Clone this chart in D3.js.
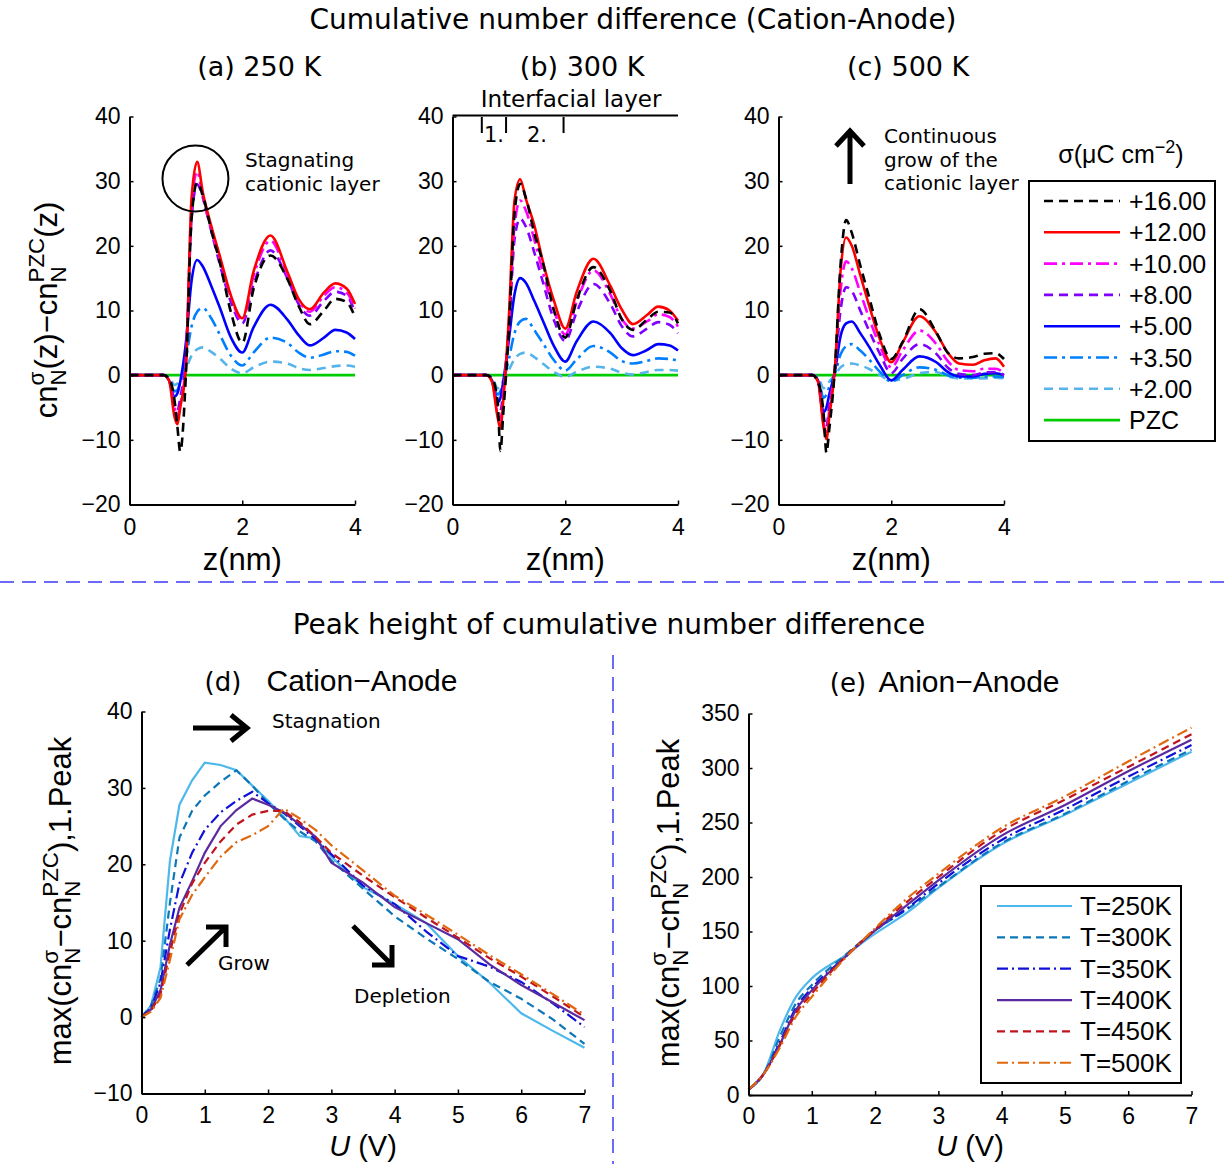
<!DOCTYPE html>
<html>
<head>
<meta charset="utf-8">
<script src="https://cdnjs.cloudflare.com/ajax/libs/d3/7.8.5/d3.min.js"></script>
<style>
body { margin: 0; background: #fff; }
text { font-family: "Liberation Sans", Arial, sans-serif; fill: #000; }
text.dv { font-family: "DejaVu Sans", sans-serif; }
</style>
</head>
<body>
<div id="chart-area"></div>
<script>
// ---- data: cumulative number difference vs z (nm) ----
const zNm = [0, 0.6, 0.7, 0.8, 0.85, 0.9, 1.0, 1.1, 1.2, 1.3, 1.45, 1.6, 1.8, 2.0, 2.2, 2.5, 2.8, 3.0, 3.2, 3.45, 3.65, 3.85, 4.0];
const sigmaLabels = ['+16.00', '+12.00', '+10.00', '+8.00', '+5.00', '+3.50', '+2.00', 'PZC'];

// 250 K, order: +16, +12, +10, +8, +5, +3.5, +2, PZC
const cn250K = [
    [0, 0, -0.5, -4, -8, -11.8, 0, 24, 29.8, 27.8, 22.4, 17.5, 9.7, 5.0, 13.3, 18.5, 14.9, 10.7, 7.9, 10, 11.8, 11.3, 9],
    [0, 0, -0.8, -6.5, -7.6, -5, 1, 27.3, 33, 28.3, 23.1, 18.5, 12.3, 8.8, 16, 21.6, 16, 11.8, 10.2, 12.8, 14.2, 13.4, 11],
    [0, 0, -0.7, -5, -6.5, -4.5, 2, 26, 31.5, 27.5, 22.5, 18, 12, 8.5, 15.3, 20.8, 15.5, 11.5, 9.8, 12.3, 13.6, 12.8, 10.3],
    [0, 0, -0.6, -4.5, -5.5, -3.5, 3, 24, 29.5, 27.5, 22.3, 17.2, 11.3, 8, 14, 19.3, 15, 11, 9.2, 11.5, 12.9, 12.3, 9.7],
    [0, 0, -0.8, -3.3, -2.8, -1, 5, 14.5, 17.8, 16.8, 13.8, 10.5, 5.8, 3.5, 7.4, 10.9, 8.6, 6.2, 4.6, 5.8, 7.0, 6.6, 5.6],
    [0, 0, -0.5, -2.5, -2.3, -1, 2.5, 7.5, 9.8, 10.4, 8.8, 6.3, 3, 1.5, 3.5, 5.8, 5, 3.5, 2.7, 3.2, 3.7, 3.6, 3.0],
    [0, 0, -0.3, -1.5, -1.3, -0.6, 1, 3, 4, 4.3, 3.6, 2.6, 1, 0.3, 1.2, 2.1, 1.8, 1.1, 0.8, 1.1, 1.4, 1.5, 1.3],
    [0, 0, 0, 0, 0, 0, 0, 0, 0, 0, 0, 0, 0, 0, 0, 0, 0, 0, 0, 0, 0, 0, 0]
];

// 300 K
const cn300K = [
    [0, 0, -0.5, -4, -11.7, -6, 7, 25, 29.6, 27.5, 22, 17.5, 10, 5.8, 11.5, 16.7, 13, 8.7, 7.0, 8.6, 9.8, 9.7, 8.0],
    [0, 0, -1, -6.5, -8.3, -4, 9, 27, 30.3, 27.3, 23.2, 17.7, 11.5, 7.2, 12.8, 18, 13.8, 10.2, 7.9, 9.3, 10.6, 10, 8.4],
    [0, 0, -0.8, -6, -7, -3, 8, 23, 27, 25.5, 21, 16, 10, 6.3, 11.3, 16.2, 12.5, 8.7, 7.2, 8.3, 9.4, 9.0, 7.5],
    [0, 0, -0.6, -5, -5.5, -2.5, 6.5, 21, 24.2, 23, 19, 14.5, 8.5, 5.3, 9.7, 14.1, 11, 7.6, 6.0, 7.2, 8.2, 7.8, 6.5],
    [0, 0, -0.8, -4.2, -3.5, -1, 5.5, 12.5, 15, 14.3, 11.5, 8.5, 4.5, 2.1, 5.2, 8.3, 6.5, 4.2, 3.1, 3.9, 4.8, 4.6, 3.8],
    [0, 0, -0.6, -3, -2.5, -1, 2.5, 6.5, 8.3, 8.7, 7, 5, 2.3, 0.7, 2.4, 4.5, 3.5, 2.2, 1.8, 2.2, 2.6, 2.5, 2.2],
    [0, 0, -0.3, -2, -1.8, -0.8, 0.8, 2.5, 3.3, 3.5, 2.8, 1.8, 0.5, -0.3, 0.5, 1.3, 1.0, 0.4, 0.1, 0.5, 0.8, 0.8, 0.7],
    [0, 0, 0, 0, 0, 0, 0, 0, 0, 0, 0, 0, 0, 0, 0, 0, 0, 0, 0, 0, 0, 0, 0]
];

// 500 K
const cn500K = [
    [0, 0, -1, -6, -12, -8.4, 1, 17, 24, 22, 17, 12.3, 6.1, 2.5, 5.1, 10.2, 6.6, 3.5, 2.6, 2.8, 3.3, 3.4, 2.5],
    [0, 0, -1, -8, -9.9, -6.5, 1, 16, 21.3, 20, 15.5, 11, 5.5, 2.0, 5, 9.1, 6.5, 3.5, 1.8, 1.6, 2.3, 2.6, 1.3],
    [0, 0, -1, -7.5, -9, -5.5, 1, 13, 17.6, 16.5, 12.8, 9, 4.5, 1.2, 3.8, 6.9, 4.8, 2.2, 0.8, 0.6, 1.0, 1.0, 0.4],
    [0, 0, -0.8, -6.5, -8, -4.5, 1, 10, 13.6, 13, 10, 7, 3.3, 0.3, 2.5, 4.8, 3.3, 1.2, 0.2, 0, 0.4, 0.5, 0],
    [0, 0, -0.8, -5.7, -5, -3, 0.5, 6, 8, 8.3, 6.5, 4.5, 1.5, -0.8, 0.8, 2.9, 2, 0.5, -0.2, -0.2, 0.2, 0.3, 0],
    [0, 0, -0.5, -3.5, -3, -1.8, 0.2, 3.2, 4.5, 4.8, 3.8, 2.5, 0.5, -1.0, 0, 1.2, 0.8, 0, -0.4, -0.4, -0.2, -0.2, -0.3],
    [0, 0, -0.3, -2, -1.8, -1, 0, 1.2, 1.7, 1.8, 1.5, 1, 0, -0.8, -0.6, 0.3, 0.5, -0.2, -0.5, -0.5, -0.5, -0.4, -0.5],
    [0, 0, 0, 0, 0, 0, 0, 0, 0, 0, 0, 0, 0, 0, 0, 0, 0, 0, 0, 0, 0, 0, 0]
];

// ---- data: peak heights vs U (V) ----
const tempLabels = ['T=250K', 'T=300K', 'T=350K', 'T=400K', 'T=450K', 'T=500K'];

const uCation = [0, 0.15, 0.3, 0.45, 0.6, 0.8, 1.0, 1.25, 1.5, 1.75, 2.0, 2.25, 2.5, 2.75, 3.0, 3.5, 4.0, 4.5, 5.0, 5.5, 6.0, 6.5, 7.0];
const peakCation = [
    [0, 1.5, 6.5, 20.5, 27.8, 31, 33.3, 33, 32.3, 30.3, 28.3, 26.2, 23.7, 23.4, 21, 17, 14.8, 12.3, 8, 4.5, 0.5, -1.8, -4],
    [0, 1.5, 5, 15, 23.5, 27, 29, 30.8, 32.3, 30.3, 28, 26, 24.3, 23, 20.5, 16.8, 13.2, 10.3, 7.6, 4.6, 2.4, -0.3, -3.5],
    [0, 1.2, 4.5, 11.5, 17.5, 21.5, 24.5, 26.8, 28.3, 29.5, 28, 26.7, 25, 23.3, 21.3, 17.2, 14.8, 11.2, 8, 6.6, 4.6, 1.8, -1.3],
    [0, 1, 3.5, 9.5, 14.3, 17.8, 21.5, 25, 27.1, 28.6, 27.8, 26.8, 25.2, 23.6, 20.2, 17.6, 14.4, 12.3, 10.2, 6.9, 4.2, 1.9, -0.4],
    [0, 0.8, 3, 8.5, 13.5, 17.5, 20.2, 23, 25.2, 26.5, 27, 27, 25.5, 23.6, 21.5, 18.5, 15.7, 13, 10.4, 7.7, 5.3, 2.7, 0],
    [0, 0.7, 2.5, 7.5, 12.8, 16, 18.3, 21, 22.9, 23.8, 25, 27.3, 26, 24.5, 22.5, 19.2, 15.9, 13.4, 10.8, 8.1, 5.6, 3, 0.3]
];

const uAnion = [0, 0.25, 0.5, 0.75, 1, 1.5, 2, 2.5, 3, 4, 5, 6, 7];
const peakAnion = [
    [5, 21, 60, 90, 107, 127, 148, 167, 190, 230, 257, 286, 315],
    [5, 20, 54, 84, 101, 127, 151, 170, 191, 231, 258, 288, 317],
    [5, 20, 49, 80, 98, 125, 151, 171, 194, 234, 262, 292, 321],
    [5, 20, 47, 78, 96, 125, 151, 174, 197, 238, 266, 297, 326],
    [5, 20, 46, 75, 93, 125, 152, 177, 200, 242, 271, 301, 331],
    [5, 20, 44, 72, 90, 124, 153, 180, 203, 245, 274, 306, 337]
];

const zTicks = [0, 2, 4];
const cnTicks = [-20, -10, 0, 10, 20, 30, 40];
const uTicks = [0, 1, 2, 3, 4, 5, 6, 7];
const cationTicks = [-10, 0, 10, 20, 30, 40];
const anionTicks = [0, 50, 100, 150, 200, 250, 300, 350];

// styles
const sigmaColors = ['#000000', '#ff0000', '#ff00ff', '#8000ff', '#0000ff', '#0080ff', '#55b4ea', '#00cc00'];
const sigmaDash = ['9,6', null, '13,5,3,5', '9,6', null, '13,5,3,5', '9,6', null];
const tempColors = ['#4db8ec', '#0d76b8', '#1010d8', '#5a2aa0', '#c0141e', '#e0680f'];
const tempDash = [null, '8,5', '11,4,2,4', null, '8,5', '11,4,2,4'];

const svg = d3.select('#chart-area')
    .append('svg')
    .attr('width', 1225)
    .attr('height', 1164);

// text with stacked sub/superscripts
function mathText(parent, x, y, parts, size, rotate) {
    const g = parent.append('g')
        .attr('transform', 'translate(' + x + ',' + y + ') rotate(' + (rotate || 0) + ')');
    const inner = g.append('g');
    let cx = 0;
    parts.forEach((p) => {
        if (typeof p === 'string' || p.t) {
            const t = inner.append('text')
                .attr('x', cx)
                .attr('font-size', size)
                .attr('font-style', p.italic ? 'italic' : null)
                .text(typeof p === 'string' ? p : p.t);
            cx += t.node().getComputedTextLength();
        } else {
            const s = size * 0.72;
            let w = 0;
            if (p.sup) {
                const t = inner.append('text').attr('x', cx).attr('y', -size * 0.42)
                    .attr('font-size', s).text(p.sup);
                w = Math.max(w, t.node().getComputedTextLength());
            }
            if (p.sub) {
                const t = inner.append('text').attr('x', cx).attr('y', size * 0.3)
                    .attr('font-size', s).text(p.sub);
                w = Math.max(w, t.node().getComputedTextLength());
            }
            cx += w;
        }
    });
    inner.attr('transform', 'translate(' + (-cx / 2) + ',0)');
    return g;
}

const tickFmt = (d) => d < 0 ? '\u2212' + Math.abs(d) : String(d);

function styleAxis(axisG) {
    axisG.select('.domain').attr('stroke', '#000').attr('stroke-width', 2);
    axisG.selectAll('.tick line').attr('stroke', '#000').attr('stroke-width', 1.5);
    axisG.selectAll('.tick text')
        .attr('font-family', '"Liberation Sans", Arial, sans-serif')
        .attr('font-size', 23)
        .attr('fill', '#000');
}

// ---- top row ----
function topPanel(x0, series, title) {
    const xScale = d3.scaleLinear().domain([0, 4]).range([x0, x0 + 225.5]);
    const yScale = d3.scaleLinear().domain([-20, 40]).range([504.5, 116.5]);

    const line = d3.line()
        .x((d, i) => xScale(zNm[i]))
        .y((d) => yScale(d))
        .curve(d3.curveMonotoneX);

    const order = [7, 6, 5, 4, 3, 2, 1, 0];
    order.forEach((k) => {
        svg.append('path')
            .datum(series[k])
            .attr('d', line)
            .attr('fill', 'none')
            .attr('stroke', sigmaColors[k])
            .attr('stroke-width', 2.6)
            .attr('stroke-dasharray', sigmaDash[k]);
    });

    const xAxisGroup = svg.append('g')
        .attr('transform', 'translate(0,' + yScale(-20) + ')')
        .call(d3.axisBottom(xScale).tickValues(zTicks).tickFormat(tickFmt)
            .tickSizeInner(-4).tickSizeOuter(0).tickPadding(14));
    styleAxis(xAxisGroup);

    const yAxisGroup = svg.append('g')
        .attr('transform', 'translate(' + xScale(0) + ',0)')
        .call(d3.axisLeft(yScale).tickValues(cnTicks).tickFormat(tickFmt)
            .tickSizeInner(-4).tickSizeOuter(0).tickPadding(9));
    styleAxis(yAxisGroup);

    svg.append('text')
        .attr('class', 'dv')
        .attr('x', xScale(2.3))
        .attr('y', 76)
        .attr('text-anchor', 'middle')
        .attr('font-size', 27)
        .text(title);

    svg.append('text')
        .attr('x', xScale(2))
        .attr('y', 570)
        .attr('text-anchor', 'middle')
        .attr('font-size', 31)
        .text('z(nm)');

    return {xScale, yScale};
}

const pa = topPanel(129.5, cn250K, '(a) 250 K');
const pb = topPanel(452.5, cn300K, '(b) 300 K');
const pc = topPanel(778.5, cn500K, '(c) 500 K');

svg.append('text')
    .attr('class', 'dv')
    .attr('x', 633)
    .attr('y', 29)
    .attr('text-anchor', 'middle')
    .attr('font-size', 28)
    .text('Cumulative number difference (Cation-Anode)');

mathText(svg, 57, 310, ['cn', {sup: '\u03c3', sub: 'N'}, '(z)\u2212cn', {sup: 'PZC', sub: 'N'}, '(z)'], 31, -90);

// (a) annotation
svg.append('circle')
    .attr('cx', pa.xScale(1.17))
    .attr('cy', pa.yScale(30.4))
    .attr('r', 33)
    .attr('fill', 'none')
    .attr('stroke', '#000')
    .attr('stroke-width', 2);
svg.append('text').attr('class', 'dv').attr('x', 245).attr('y', 167).attr('font-size', 20).text('Stagnating');
svg.append('text').attr('class', 'dv').attr('x', 245).attr('y', 191).attr('font-size', 20).text('cationic layer');

// (b) interfacial layer bracket
svg.append('line')
    .attr('x1', pb.xScale(0)).attr('x2', pb.xScale(4))
    .attr('y1', 115.5).attr('y2', 115.5)
    .attr('stroke', '#000').attr('stroke-width', 2);
[0.52, 0.95, 1.97].forEach((z) => {
    svg.append('line')
        .attr('x1', pb.xScale(z)).attr('x2', pb.xScale(z))
        .attr('y1', 117).attr('y2', 133)
        .attr('stroke', '#000').attr('stroke-width', 2);
});
svg.append('text').attr('class', 'dv').attr('x', 571).attr('y', 107).attr('text-anchor', 'middle').attr('font-size', 23).text('Interfacial layer');
svg.append('text').attr('class', 'dv').attr('x', 484).attr('y', 142).attr('font-size', 21).text('1.');
svg.append('text').attr('class', 'dv').attr('x', 527).attr('y', 142).attr('font-size', 21).text('2.');

// (c) arrow + text
svg.append('path')
    .attr('d', 'M850,184 L850,132 M836,146 L850,131 L864,146')
    .attr('fill', 'none').attr('stroke', '#000').attr('stroke-width', 5);
svg.append('text').attr('class', 'dv').attr('x', 884).attr('y', 143).attr('font-size', 20).text('Continuous');
svg.append('text').attr('class', 'dv').attr('x', 884).attr('y', 167).attr('font-size', 20).text('grow of the');
svg.append('text').attr('class', 'dv').attr('x', 884).attr('y', 190).attr('font-size', 20).text('cationic layer');

// sigma legend
mathText(svg, 1121, 163, ['\u03c3(\u03bcC cm', {sup: '\u22122'}, ')'], 25, 0);
svg.append('rect')
    .attr('x', 1029).attr('y', 181)
    .attr('width', 186).attr('height', 260)
    .attr('fill', '#fff').attr('stroke', '#000').attr('stroke-width', 2);
sigmaLabels.forEach((lab, i) => {
    const y = 201 + i * 31.3;
    svg.append('line')
        .attr('x1', 1044).attr('x2', 1120)
        .attr('y1', y).attr('y2', y)
        .attr('stroke', sigmaColors[i]).attr('stroke-width', 2.6)
        .attr('stroke-dasharray', sigmaDash[i]);
    svg.append('text')
        .attr('x', 1129).attr('y', y + 9)
        .attr('font-size', 25)
        .text(lab);
});

// separators
svg.append('line')
    .attr('x1', 0).attr('x2', 1225).attr('y1', 582).attr('y2', 582)
    .attr('stroke', '#3a3af5').attr('stroke-width', 1.5).attr('stroke-dasharray', '14,8');
svg.append('line')
    .attr('x1', 613).attr('x2', 613).attr('y1', 655).attr('y2', 1164)
    .attr('stroke', '#3a3af5').attr('stroke-width', 1.5).attr('stroke-dasharray', '14,8');

svg.append('text')
    .attr('class', 'dv')
    .attr('x', 609)
    .attr('y', 634)
    .attr('text-anchor', 'middle')
    .attr('font-size', 28)
    .text('Peak height of cumulative number difference');

// ---- bottom row ----
function bottomPanel(x0, y0, y1, domainY, ticks, uVals, series, curve) {
    const xScale = d3.scaleLinear().domain([0, 7]).range([x0, x0 + 443]);
    const yScale = d3.scaleLinear().domain(domainY).range([y0, y1]);

    const line = d3.line()
        .x((d, i) => xScale(uVals[i]))
        .y((d) => yScale(d))
        .curve(curve);

    series.forEach((s, k) => {
        svg.append('path')
            .datum(s)
            .attr('d', line)
            .attr('fill', 'none')
            .attr('stroke', tempColors[k])
            .attr('stroke-width', 2.2)
            .attr('stroke-dasharray', tempDash[k]);
    });

    const xAxisGroup = svg.append('g')
        .attr('transform', 'translate(0,' + y0 + ')')
        .call(d3.axisBottom(xScale).tickValues(uTicks).tickFormat(tickFmt)
            .tickSizeInner(-4).tickSizeOuter(0).tickPadding(13));
    styleAxis(xAxisGroup);

    const yAxisGroup = svg.append('g')
        .attr('transform', 'translate(' + x0 + ',0)')
        .call(d3.axisLeft(yScale).tickValues(ticks).tickFormat(tickFmt)
            .tickSizeInner(-4).tickSizeOuter(0).tickPadding(9));
    styleAxis(yAxisGroup);

    mathText(svg, xScale(3.5), 1156, [{t: 'U', italic: true}, '\u00a0(V)'], 29, 0);

    return {xScale, yScale};
}

const pd = bottomPanel(141.5, 1093.5, 711.5, [-10, 40], cationTicks, uCation, peakCation, d3.curveLinear);
const pe = bottomPanel(748.5, 1095, 713.5, [0, 350], anionTicks, uAnion, peakAnion, d3.curveMonotoneX);

mathText(svg, 71, 901, ['max(cn', {sup: '\u03c3', sub: 'N'}, '\u2212cn', {sup: 'PZC', sub: 'N'}, '),1.Peak'], 31, -90);
mathText(svg, 679, 903, ['max(cn', {sup: '\u03c3', sub: 'N'}, '\u2212cn', {sup: 'PZC', sub: 'N'}, '),1.Peak'], 31, -90);

// panel titles
svg.append('text').attr('class', 'dv').attr('x', 223).attr('y', 691).attr('text-anchor', 'middle').attr('font-size', 26).text('(d)');
svg.append('text').attr('x', 362).attr('y', 691).attr('text-anchor', 'middle').attr('font-size', 30).text('Cation\u2212Anode');
svg.append('text').attr('class', 'dv').attr('x', 848).attr('y', 692).attr('text-anchor', 'middle').attr('font-size', 26).text('(e)');
svg.append('text').attr('x', 969).attr('y', 692).attr('text-anchor', 'middle').attr('font-size', 30).text('Anion\u2212Anode');

// (d) arrows and annotations
const arrowPaths = [
    'M193,728 L247,728 M231,715 L247,728 L231,741',
    'M187,965 L226,927 M206,927 L226,927 L226,947',
    'M353,926 L392,965 M372,965 L392,965 L392,945'
];
arrowPaths.forEach((p) => {
    svg.append('path')
        .attr('d', p)
        .attr('fill', 'none')
        .attr('stroke', '#000')
        .attr('stroke-width', 5);
});
svg.append('text').attr('class', 'dv').attr('x', 272).attr('y', 728).attr('font-size', 20).text('Stagnation');
svg.append('text').attr('class', 'dv').attr('x', 218).attr('y', 970).attr('font-size', 20).text('Grow');
svg.append('text').attr('class', 'dv').attr('x', 354).attr('y', 1003).attr('font-size', 20).text('Depletion');

// temperature legend in (e)
svg.append('rect')
    .attr('x', 981).attr('y', 886)
    .attr('width', 200).attr('height', 197)
    .attr('fill', '#fff').attr('stroke', '#000').attr('stroke-width', 2);
tempLabels.forEach((lab, i) => {
    const y = 906 + i * 31.35;
    svg.append('line')
        .attr('x1', 997).attr('x2', 1072)
        .attr('y1', y).attr('y2', y)
        .attr('stroke', tempColors[i]).attr('stroke-width', 2.2)
        .attr('stroke-dasharray', tempDash[i]);
    svg.append('text')
        .attr('x', 1080).attr('y', y + 9)
        .attr('font-size', 26)
        .text(lab);
});
</script>
</body>
</html>
